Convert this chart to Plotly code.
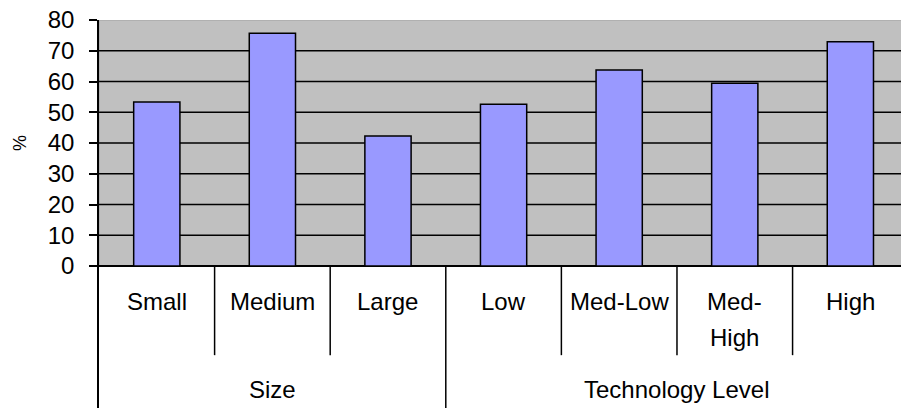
import plotly.graph_objects as go

# Survey share (%) by firm size and by technology level
categories = ["Small", "Medium", "Large", "Low", "Med-Low", "Med-High", "High"]
label_lines = [["Small"], ["Medium"], ["Large"], ["Low"], ["Med-Low"], ["Med-", "High"], ["High"]]
values = [53.3, 75.7, 42.3, 52.6, 63.7, 59.4, 72.9]
groups = ["Size", "Technology Level"]
group_sizes = [3, 4]
y_ticks = [0, 10, 20, 30, 40, 50, 60, 70, 80]

FONT = "Liberation Sans, Arial, sans-serif"
BAR_FILL = "#9999FF"
PLOT_GRAY = "#C0C0C0"

Y_MAX = 80
Y_MIN = -46.18          # room below zero for the two-level category labels
X_MIN, X_MAX = -0.5, 6.438

fig = go.Figure()

fig.add_trace(go.Bar(
    x=categories,
    y=values,
    width=0.4,
    marker=dict(color=BAR_FILL, line=dict(color="#000000", width=1.5)),
    hoverinfo="x+y",
))

shapes = []
# grey plotting area (0..80)
shapes.append(dict(type="rect", xref="x", yref="y", x0=-0.5, x1=len(categories) - 0.5,
                   y0=0, y1=Y_MAX, fillcolor=PLOT_GRAY,
                   line=dict(color="#A0A0A0", width=1), layer="below"))
# horizontal gridlines
for v in y_ticks[1:-1]:
    shapes.append(dict(type="line", xref="x", yref="y", x0=-0.5, x1=len(categories) - 0.5,
                       y0=v, y1=v, line=dict(color="#000000", width=1.6), layer="below"))

# separators in the category label area
start = 0
for gi, n in enumerate(group_sizes):
    for k in range(1, n):
        xs = start + k - 0.5
        shapes.append(dict(type="line", xref="x", yref="y", x0=xs, x1=xs, y0=0, y1=-29,
                           line=dict(color="#000000", width=1.5)))
    end = start + n - 0.5
    shapes.append(dict(type="line", xref="x", yref="y", x0=end, x1=end, y0=0, y1=Y_MIN,
                       line=dict(color="#000000", width=1.5)))
    start += n

annotations = []
LINE_GAP = 11.4   # data units between the two lines of a wrapped label
for i, lines in enumerate(label_lines):
    for j, txt in enumerate(lines):
        annotations.append(dict(x=i, y=-11.7 - j * LINE_GAP, xref="x", yref="y",
                                text=txt, showarrow=False, xanchor="center", yanchor="middle",
                                font=dict(family=FONT, size=24, color="#000000")))
start = 0
for g, n in zip(groups, group_sizes):
    annotations.append(dict(x=start + (n - 1) / 2, y=-40.3, xref="x", yref="y",
                            text=g, showarrow=False, xanchor="center", yanchor="middle",
                            font=dict(family=FONT, size=24, color="#000000")))
    start += n

# value-axis title, centred on the 0..80 span
annotations.append(dict(x=-0.0985, y=Y_MAX / 2, xref="paper", yref="y",
                        text="%", textangle=-90, showarrow=False,
                        xanchor="center", yanchor="middle",
                        font=dict(family=FONT, size=18, color="#000000")))

fig.update_layout(
    width=901, height=408,
    margin=dict(l=99, r=0, t=20, b=0),
    paper_bgcolor="#FFFFFF",
    plot_bgcolor="#FFFFFF",
    showlegend=False,
    bargap=0.6,
    shapes=shapes,
    annotations=annotations,
    xaxis=dict(
        type="category",
        range=[X_MIN, X_MAX],
        showticklabels=False, showgrid=False, zeroline=False, showline=False, ticks="",
        fixedrange=True,
    ),
    yaxis=dict(
        range=[Y_MIN, Y_MAX],
        tickvals=y_ticks,
        ticktext=[str(v) for v in y_ticks],
        ticks="outside", ticklen=8, tickwidth=1.5, tickcolor="#000000",
        ticklabelstandoff=10,
        tickfont=dict(family=FONT, size=24, color="#000000"),
        showline=True, linecolor="#000000", linewidth=1.5,
        showgrid=False,
        zeroline=True, zerolinecolor="#000000", zerolinewidth=1.5,
        fixedrange=True,
    ),
)

fig.write_html("out.html")
